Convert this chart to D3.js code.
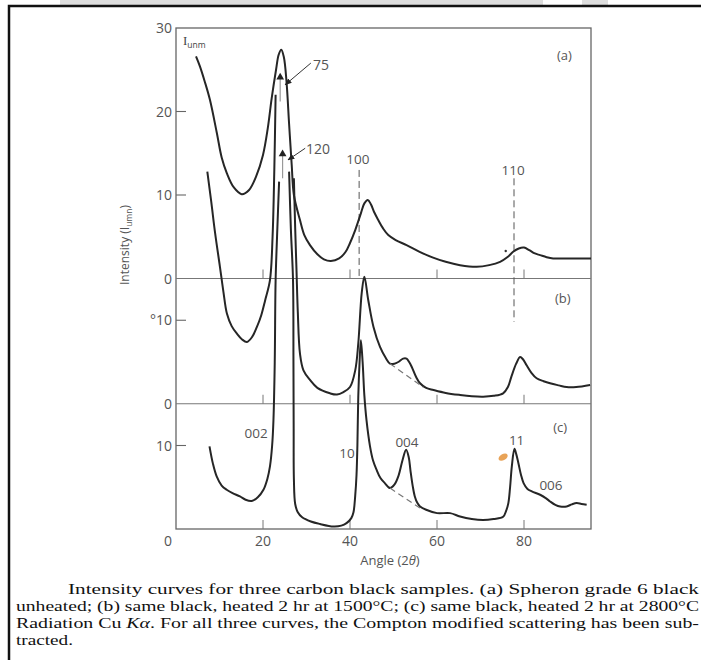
<!DOCTYPE html>
<html>
<head>
<meta charset="utf-8">
<script src="https://cdn.jsdelivr.net/npm/d3@7"></script>
<style>
  body { margin: 0; background: #fff; }
  text { font-family: "Open Sans", sans-serif; }
  text.cap { font-family: "Liberation Serif", "Times New Roman", serif; }
</style>
</head>
<body>
<svg id="chart" width="701" height="660"></svg>
<script>
// (a) unheated  -  [angle 2theta, intensity]
var curveA = [[4.6,26.6],[5.5,25.4],[6.6,23.6],[7.8,21.4],[9.4,17.4],[10.5,14.5],[11.7,12.6],[13.3,10.9],
  [15.1,10.1],[16.8,10.6],[18.4,12.2],[20,14.8],[21.1,18],[22,21.6],[23,25],[23.6,26.8],[24.2,27.4],
  [24.8,26.5],[25.4,23.6],[26,18.5],[26.6,13.6],[27.1,10],[28.5,7],[29.5,5.2],[30.8,4],[32.5,2.9],
  [34,2.3],[35.6,2.1],[37.5,2.4],[39,3.2],[40,4.25],[41.2,5.8],[42.5,7.8],[43.3,9],[44.1,9.4],[44.8,8.9],
  [45.6,7.9],[46.5,7],[47.6,6],[48.8,5.2],[50.5,4.6],[53,4],[56,3.2],[59.1,2.5],[62,2],[65.3,1.6],
  [69.1,1.4],[72,1.6],[74.5,2],[76.3,2.6],[77.5,3.2],[78.8,3.6],[80,3.7],[81.2,3.4],[82.5,3],[83.7,2.8],
  [85.2,2.55],[86.7,2.4],[90,2.4],[95.4,2.4]];

// (b) 1500 C - 002 peak is cut off (goes to 75)
var curveBLeft = [[7.2,27.8],[8.1,24.2],[9,20.4],[10.1,16.4],[10.9,13.4],[11.7,10.8],[12.8,9.3],[14,8.4],
  [15.2,7.7],[16.3,7.4],[17.5,8],[18.6,9.2],[19.6,10.6],[20.5,12.4],[21.6,14.8],[22.2,20],[22.6,28],[22.9,37]];
var curveBRight = [[27.1,27],[27.4,21],[27.7,16],[28,11],[28.5,6],[29.3,4],[30.8,2.85],[32.5,1.9],[35.4,1.25],
  [37,1.1],[38.5,1.4],[40,2],[41.2,4],[41.9,7.2],[42.7,13.3],[43.3,15.2],[44.2,12.4],[45.4,9.2],[46.9,6.8],
  [48.2,5.5],[49.2,4.8],[50.2,4.8],[51.1,5],[52.2,5.4],[53,5.4],[53.6,5],[54.2,4.4],[55.2,3.2],[56.1,2.45],
  [57.5,1.9],[59.2,1.65],[62,1.3],[65.3,1.05],[68,0.9],[70.6,0.85],[73,0.95],[75.2,1.25],[76.3,2],
  [77.1,3.25],[78.2,4.8],[79.1,5.6],[79.8,5.3],[80.6,4.6],[81.7,3.7],[82.9,3.05],[84.5,2.7],[86,2.45],
  [88,2.2],[89.8,2],[92,2],[95.2,2.25]];
var baseB = [[49.2,4.8],[56.8,2.0]];

// (c) 2800 C - 002 peak cut off (goes to 120)
var curveCLeft = [[7.7,9.9],[8.5,7.8],[9.35,6.3],[10.5,5.2],[11.65,4.7],[13,4.3],[14.7,3.9],[16,3.5],
  [17.4,3.35],[18.8,3.8],[20.1,4.7],[21,6],[21.6,7.5],[22.1,10],[22.4,13],[22.7,20],[22.9,29.8],[23.3,36],[23.7,41.6]];
var curveCRight = [[26,42.8],[26.4,36],[26.9,29.8],[27,20],[27.05,12],[27.1,6],[27.4,3],[28,2],[29,1.4],
  [31,0.9],[33.1,0.6],[36.2,0.3],[38,0.4],[39.2,0.7],[40.3,1.3],[40.8,2],[41.2,4],[41.5,6.5],[41.7,10],
  [41.9,15.8],[42.2,20],[42.5,22.6],[42.9,20],[43.3,16],[43.8,13],[44.6,9.9],[45.3,8.2],[46.1,7.1],[47,6.1],
  [48,5.5],[49.2,4.9],[50.2,5.3],[51.1,6.3],[52.1,8.3],[52.9,9.5],[53.5,8.6],[53.9,7],[54.4,5.2],[54.9,3.9],
  [55.5,3.1],[56.1,2.7],[57.5,2.3],[60,1.9],[63,1.9],[65.3,1.5],[68,1.2],[70.6,1.08],[73,1.2],[75.2,1.47],
  [75.9,2.2],[76.4,3.1],[76.8,5],[77.2,7.5],[77.8,9.6],[78.2,9],[78.7,7.9],[79.3,6.5],[79.9,5.5],[80.8,4.8],
  [81.8,4.5],[83.7,4.1],[85,3.7],[86,3.3],[87.2,2.9],[88.3,2.7],[89.8,2.7],[91,2.95],[92.1,3.1],[93.2,3],[94.4,2.9]];
var baseC = [[49.2,4.9],[56.1,2.5]];

// panel offsets on the shared intensity scale
var offA = 30, offB = 15, offC = 0;

var xTicks = [0, 20, 40, 60, 80];
var yTickText = ["30", "20", "10", "0", "°10", "0", "10"];
var yTickPos  = [60, 50, 40, 30, 25, 15, 10];
var yTickMarks = [50, 40, 25, 10];

// peak labels (angle, global intensity)
var peakText = ["100", "110", "002", "10", "004", "11", "006"];
var peakPos  = [[41.8,43.7],[77.5,42.4],[18.4,10.9],[39.3,8.5],[53.1,9.8],[78.3,10.06],[86.2,4.67]];
var panelText = ["(a)", "(b)", "(c)"];
var panelPos  = [[89.3,56.2],[88.9,27.1],[88.3,11.6]];

var dashed = [[[42.1,43.0],[42.1,30.1]], [[77.7,42.0],[77.7,24.8]]];

var captionLines = [
  "Intensity curves for three carbon black samples. (a) Spheron grade 6 black",
  "unheated; (b) same black, heated 2 hr at 1500°C; (c) same black, heated 2 hr at 2800°C",
  "Radiation Cu |Kα|. For all three curves, the Compton modified scattering has been sub-",
  "tracted."
];

var svg = d3.select("#chart");
var x = d3.scaleLinear().domain([0, 95.4]).range([176, 591]);
var y = d3.scaleLinear().domain([0, 60]).range([529, 28]);

function lineGen(off) {
  return d3.line()
    .x(function(d) { return x(d[0]); })
    .y(function(d) { return y(d[1] + off); })
    .curve(d3.curveCatmullRom.alpha(0.5));
}

// faint scan marks at the top
svg.append("rect").attr("x", 60).attr("y", 0).attr("width", 483).attr("height", 5).attr("fill", "#ddd");
svg.append("rect").attr("x", 582).attr("y", 0).attr("width", 26).attr("height", 5).attr("fill", "#ddd");

// page border
svg.append("rect").attr("x", 9).attr("y", 6).attr("width", 740).attr("height", 700)
  .attr("fill", "none").attr("stroke", "#111").attr("stroke-width", 2.5);

// defs for arrows
var defs = svg.append("defs");
defs.append("marker").attr("id", "arr").attr("viewBox", "0 0 10 10")
  .attr("refX", 9).attr("refY", 5).attr("markerWidth", 7).attr("markerHeight", 7)
  .attr("orient", "auto")
  .append("path").attr("d", "M0,1L10,5L0,9z").attr("fill", "#222");

// frame
svg.append("rect")
  .attr("x", x(0)).attr("y", y(60))
  .attr("width", x(95.4) - x(0)).attr("height", y(0) - y(60))
  .attr("fill", "none").attr("stroke", "#666").attr("stroke-width", 1.3);

// zero lines of (a) and (b)
[offA, offB].forEach(function(o) {
  svg.append("line").attr("x1", x(0)).attr("x2", x(95.4))
    .attr("y1", y(o)).attr("y2", y(o))
    .attr("stroke", "#777").attr("stroke-width", 1.1);
});

// small ticks on each baseline
[offA, offB, offC].forEach(function(o) {
  xTicks.slice(1).forEach(function(t) {
    svg.append("line").attr("x1", x(t)).attr("x2", x(t))
      .attr("y1", y(o)).attr("y2", y(o) - 9)
      .attr("stroke", "#777").attr("stroke-width", 1);
  });
});
yTickMarks.forEach(function(v) {
  svg.append("line").attr("x1", x(0)).attr("x2", x(0) + 10)
    .attr("y1", y(v)).attr("y2", y(v))
    .attr("stroke", "#666").attr("stroke-width", 1.1);
});

// tick labels
yTickText.forEach(function(t, i) {
  svg.append("text").attr("x", 172).attr("y", y(yTickPos[i])).attr("dy", "0.36em")
    .attr("text-anchor", "end").style("font-size", "14px").attr("fill", "#555").text(t);
});
xTicks.forEach(function(t) {
  svg.append("text").attr("x", x(t) + (t === 0 ? -8 : 0)).attr("y", 546)
    .attr("text-anchor", "middle").style("font-size", "14px").attr("fill", "#555").text(t);
});

// axis titles
svg.append("text").attr("x", 390).attr("y", 565).attr("text-anchor", "middle")
  .style("font-size", "13px").attr("fill", "#555")
  .html('Angle (2<tspan font-style="italic">θ</tspan>)');
var yl = svg.append("text").attr("transform", "translate(129,245) rotate(-90)")
  .attr("text-anchor", "middle").style("font-size", "12px").attr("fill", "#555");
yl.append("tspan").text("Intensity (I");
yl.append("tspan").attr("dy", 3).style("font-size", "8.5px").text("umn");
yl.append("tspan").attr("dy", -3).text(")");

var iu = svg.append("text").attr("x", x(1.6)).attr("y", y(58)).attr("fill", "#444");
iu.append("tspan").style("font-family", "'Liberation Serif', serif").style("font-size", "13px").text("I");
iu.append("tspan").attr("dy", 3).style("font-size", "8.5px").text("unm");

// dashed index lines
dashed.forEach(function(d) {
  svg.append("path").attr("d", d3.line().x(p => x(p[0])).y(p => y(p[1]))(d))
    .attr("stroke", "#555").attr("stroke-width", 1).attr("stroke-dasharray", "7,4").attr("fill", "none");
});

// curves
var series = [[curveA, offA], [curveBLeft, offB], [curveBRight, offB], [curveCLeft, offC], [curveCRight, offC]];
series.forEach(function(s) {
  svg.append("path").datum(s[0]).attr("d", lineGen(s[1]))
    .attr("fill", "none").attr("stroke", "#262626").attr("stroke-width", 2)
    .attr("stroke-linejoin", "round");
});
[[baseB, offB], [baseC, offC]].forEach(function(s) {
  svg.append("path").datum(s[0]).attr("d", d3.line().x(d => x(d[0])).y(d => y(d[1] + s[1])))
    .attr("fill", "none").attr("stroke", "#777").attr("stroke-width", 1.2).attr("stroke-dasharray", "6,4");
});

// cut-off peak markers: triangle, stub and leader with value
var cutLabels = ["75", "120"];
var cutTri  = [[23.95,54.1],[24.5,44.9]];
var cutStub = [[23.95,51.2],[24.5,42.0]];
var cutLead = [[[31.0,55.8],[25.1,53.2]], [[29.7,45.6],[25.75,44.2]]];
var cutText = [[31.5,54.97],[29.9,44.9]];
cutLabels.forEach(function(t, i) {
  svg.append("line").attr("x1", x(cutTri[i][0])).attr("x2", x(cutStub[i][0]))
    .attr("y1", y(cutTri[i][1])).attr("y2", y(cutStub[i][1]))
    .attr("stroke", "#999").attr("stroke-width", 1.2);
  svg.append("path").attr("transform", "translate(" + x(cutTri[i][0]) + "," + y(cutTri[i][1]) + ")")
    .attr("d", d3.symbol(d3.symbolTriangle, 26)()).attr("fill", "#222");
  svg.append("line").attr("x1", x(cutLead[i][0][0])).attr("y1", y(cutLead[i][0][1]))
    .attr("x2", x(cutLead[i][1][0])).attr("y2", y(cutLead[i][1][1]))
    .attr("stroke", "#333").attr("stroke-width", 1).attr("marker-end", "url(#arr)");
  svg.append("text").attr("x", x(cutText[i][0])).attr("y", y(cutText[i][1]))
    .style("font-size", "14px").attr("fill", "#555").text(t);
});

// peak and panel labels
peakText.forEach(function(t, i) {
  svg.append("text").attr("x", x(peakPos[i][0])).attr("y", y(peakPos[i][1]))
    .attr("text-anchor", "middle").style("font-size", "13.5px").attr("fill", "#555").text(t);
});
panelText.forEach(function(t, i) {
  svg.append("text").attr("x", x(panelPos[i][0])).attr("y", y(panelPos[i][1]))
    .attr("text-anchor", "middle").style("font-size", "13px").attr("fill", "#555").text(t);
});

// stray marks on the scan
svg.append("ellipse").attr("cx", x(75.2)).attr("cy", y(8.6)).attr("rx", 5).attr("ry", 3)
  .attr("transform", "rotate(-30," + x(75.2) + "," + y(8.6) + ")").attr("fill", "#e8a358");
svg.append("circle").attr("cx", x(75.8)).attr("cy", y(33.3)).attr("r", 1.2).attr("fill", "#333");

// caption, justified (glyphs stretched to the book's wide type)
var capX = [68, 16, 16, 16];
var capY = [594, 611, 628, 645];
var capLen = [631, 683, 683, 57];
captionLines.forEach(function(l, i) {
  var t = svg.append("text").attr("class", "cap").attr("x", capX[i]).attr("y", capY[i])
    .style("font-size", "15.5px").attr("fill", "#111")
    .attr("textLength", capLen[i]).attr("lengthAdjust", "spacingAndGlyphs");
  l.split("|").forEach(function(part, k) {
    var ts = t.append("tspan").text(part);
    if (k % 2 === 1) ts.style("font-style", "italic");
  });
});
</script>
</body>
</html>
